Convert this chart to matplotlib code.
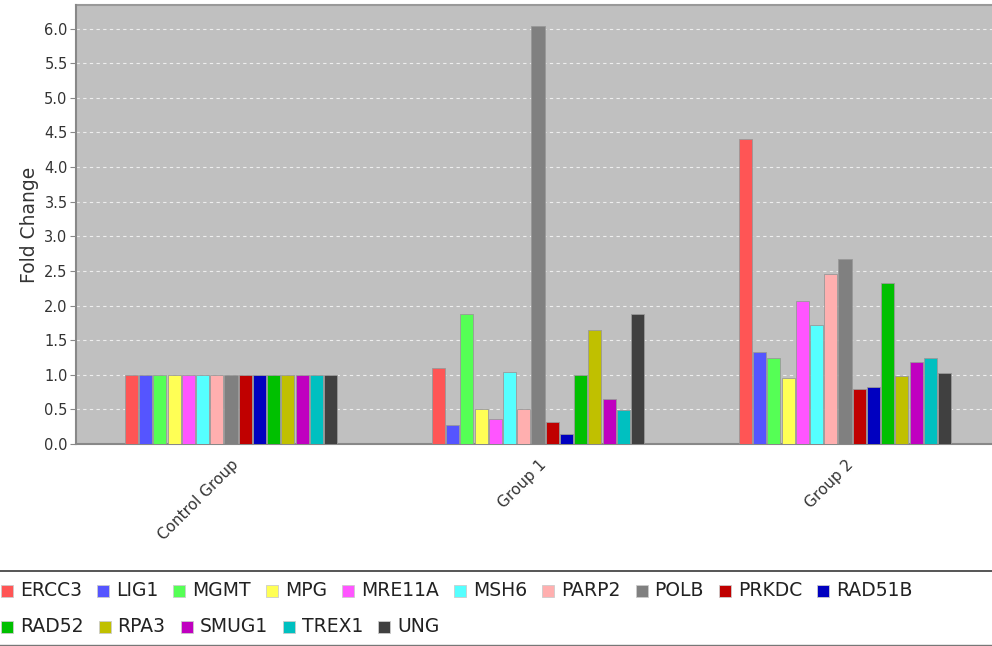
import numpy as np
import matplotlib.pyplot as plt
from matplotlib.patches import Rectangle
from matplotlib.lines import Line2D

groups = ['Control Group', 'Group 1', 'Group 2']
genes = ['ERCC3', 'LIG1', 'MGMT', 'MPG', 'MRE11A', 'MSH6', 'PARP2', 'POLB',
         'PRKDC', 'RAD51B', 'RAD52', 'RPA3', 'SMUG1', 'TREX1', 'UNG']

control = [1.0] * 15
group1 = [1.10, 0.27, 1.88, 0.51, 0.36, 1.04, 0.51, 6.04,
          0.32, 0.14, 0.99, 1.64, 0.65, 0.49, 1.88]
group2 = [4.41, 1.33, 1.24, 0.95, 2.06, 1.72, 2.46, 2.67,
          0.80, 0.82, 2.32, 0.98, 1.19, 1.24, 1.03]

colors = ['#ff5555', '#5555ff', '#55ff55', '#ffff55', '#ff55ff', '#55ffff',
          '#ffafaf', '#808080', '#c00000', '#0000c0', '#00c000', '#c0c000',
          '#c000c0', '#00c0c0', '#404040']

values = np.array([control, group1, group2])  # groups x genes

W, H = 992, 646
fig = plt.figure(figsize=(W / 100, H / 100), dpi=100)
fig.patch.set_facecolor('white')

# axes box in pixels: left 76, top 5, bottom 444, right ~1000 (cut off)
ax = fig.add_axes([76 / W, (H - 444) / H, (1000 - 76) / W, (444 - 5) / H])
ax.set_facecolor('#c0c0c0')

x = np.arange(len(groups))
slot = 0.0463
for i, g in enumerate(genes):
    ax.bar(x - 7 * slot + i * slot, values[:, i], width=slot * 0.92,
           color=colors[i], edgecolor='#999999', linewidth=0.6, zorder=3)

ax.set_xlim(-0.505, 2.505)
ax.set_ylim(0, 6.34)
ticks = np.arange(0, 6.01, 0.5)
ax.set_yticks(ticks)
ax.set_yticklabels([f'{v:.1f}' for v in ticks], fontsize=10.5, color='#333333')
ax.yaxis.grid(True, color='#eeeeee', linestyle=(0, (3, 3)), linewidth=0.8)
ax.set_axisbelow(True)
ax.tick_params(axis='y', length=4, color='#888888', pad=2)
ax.set_ylabel('Fold Change', fontsize=13.5, color='#333333', labelpad=4)

ax.set_xticks(x)
ax.set_xticklabels([])
ax.tick_params(axis='x', length=0)
for xi, lab in zip(x, groups):
    ax.annotate(lab, xy=(xi, 0), xycoords=('data', 'axes fraction'),
                xytext=(4, -13), textcoords='offset points',
                rotation=45, ha='right', va='center', rotation_mode='anchor',
                fontsize=11, color='#333333')

for s in ['top', 'right']:
    ax.spines[s].set_visible(False)
ax.spines['left'].set_color('#888888')
ax.spines['bottom'].set_color('#888888')
ax.spines['left'].set_linewidth(1.5)
ax.spines['bottom'].set_linewidth(1.5)
ax.add_line(Line2D([0, 1], [1, 1], transform=ax.transAxes, color='#999999',
                   linewidth=1.5, clip_on=False))

# legend box (flow layout)
fig.add_artist(Line2D([0, 1], [(H - 571) / H] * 2, color='#555555', linewidth=1.4))
fig.add_artist(Line2D([0, 1], [(H - 645) / H] * 2, color='#777777', linewidth=1.0))

fig.canvas.draw()
renderer = fig.canvas.get_renderer()
rows_y = [591, 627]
row = 0
px = 1
for g, c in zip(genes, colors):
    if g == 'RAD52':
        row += 1
        px = 1
    y = rows_y[row]
    fig.add_artist(Rectangle((px / W, (H - y - 6) / H), 12 / W, 12 / H,
                             facecolor=c, edgecolor='#cccccc', linewidth=0.6))
    t = fig.text((px + 19) / W, (H - y) / H, g, fontsize=13.5, color='#222222',
                 va='center', ha='left')
    tw = t.get_window_extent(renderer).width
    px = px + 19 + tw + 15

fig.savefig('out.png', dpi=100)
